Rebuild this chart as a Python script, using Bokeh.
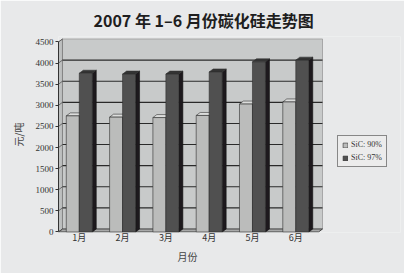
from bokeh.plotting import figure
from bokeh.models import Range1d, FixedTicker, Legend, LegendItem, Title
from bokeh.embed import file_html
from bokeh.resources import INLINE

# 2007 年 1–6 月碳化硅价格（元/吨）
months = ["1月", "2月", "3月", "4月", "5月", "6月"]
sic_90 = [2750, 2720, 2710, 2760, 3030, 3080]
sic_97 = [3760, 3740, 3740, 3790, 4030, 4070]
series_names = ["SiC: 90%", "SiC: 97%"]
y_ticks = [0, 500, 1000, 1500, 2000, 2500, 3000, 3500, 4000, 4500]

PAGE = "#e8e9ea"
WALL = "#c8caca"
SIDE_WALL = "#bdbfbf"
FLOOR = "#a8a9a9"
EDGE = "#2a2a2a"

# pseudo-3D geometry in data units
bar_w = 0.30
offsets = [-0.15, 0.15]
dx = 0.092          # depth, horizontal
dy = 71             # depth, vertical
x_lo = -0.48
x_hi = x_lo + 342 / 43.3   # plot area runs on to the right edge, leaving room for the legend
wall_right = 5.617
y_top = 4500

p = figure(width=404, height=273, output_backend="svg", toolbar_location=None,
           x_range=Range1d(x_lo, x_hi), y_range=Range1d(-12, 4630),
           min_border_left=58, min_border_right=4,
           min_border_top=35, min_border_bottom=41)
p.background_fill_color = PAGE
p.border_fill_color = PAGE
p.outline_line_color = None
p.grid.visible = False

p.title.text = "2007 年 1–6 月份碳化硅走势图"
p.title.text_font = "Noto Sans CJK SC"
p.title.text_font_size = "16px"
p.title.text_font_style = "bold"
p.title.text_color = "#1e1e1e"
p.title.align = "left"
p.title.offset = 35

# walls and floor
p.quad(left=x_lo + dx, right=wall_right, bottom=dy, top=y_top + dy,
       fill_color=WALL, line_color="#9a9a9a", line_width=0.8)
p.patch([x_lo, x_lo + dx, x_lo + dx, x_lo], [0, dy, y_top + dy, y_top],
        fill_color=SIDE_WALL, line_color="#777777", line_width=0.8)
p.patch([x_lo, wall_right - dx, wall_right, x_lo + dx], [0, 0, dy, dy],
        fill_color=FLOOR, line_color=EDGE, line_width=0.8)

# gridlines on the back wall and their diagonals on the side wall
grid_vals = y_ticks[1:-1]
p.segment(x0=[x_lo + dx] * len(grid_vals), y0=[v + dy for v in grid_vals],
          x1=[wall_right] * len(grid_vals), y1=[v + dy for v in grid_vals],
          line_color=EDGE, line_width=1.1)
p.segment(x0=[x_lo] * len(y_ticks), y0=y_ticks,
          x1=[x_lo + dx] * len(y_ticks), y1=[v + dy for v in y_ticks],
          line_color="#555555", line_width=0.8)

styles = [
    dict(front="#bbbcbb", top="#dcdddc", side="#858585"),
    dict(front="#505050", top="#333333", side="#1d191d"),
]

legend_items = []
for vals, off, st, name in zip([sic_90, sic_97], offsets, styles, series_names):
    xs = [i + off for i in range(len(months))]
    lefts = [x - bar_w / 2 for x in xs]
    rights = [x + bar_w / 2 for x in xs]
    side_xs = [[r, r, r + dx, r + dx] for r in rights]
    side_ys = [[0, v, v + dy, dy] for v in vals]
    top_xs = [[l, l + dx, r + dx, r] for l, r in zip(lefts, rights)]
    top_ys = [[v, v + dy, v + dy, v] for v in vals]
    p.patches(side_xs, side_ys, fill_color=st["side"], line_color="#111111", line_width=0.6)
    p.patches(top_xs, top_ys, fill_color=st["top"], line_color="#333333", line_width=0.6)
    r = p.vbar(x=xs, width=bar_w, bottom=0, top=vals,
               fill_color=st["front"], line_color="#2e2e2e", line_width=0.6)
    legend_items.append(LegendItem(label=name, renderers=[r]))

# axes
yax = p.yaxis[0]
yax.ticker = FixedTicker(ticks=y_ticks)
yax.bounds = (0, y_top)
yax.axis_line_color = "#333333"
yax.major_tick_line_color = "#333333"
yax.major_tick_out = 3
yax.major_tick_in = 0
yax.minor_tick_line_color = None
yax.major_label_text_font = "Liberation Serif"
yax.major_label_text_font_size = "9px"
yax.major_label_text_color = "#333333"
yax.major_label_standoff = 2
yax.axis_label = "元/吨"
yax.axis_label_text_font = "Noto Sans CJK SC"
yax.axis_label_text_font_size = "10px"
yax.axis_label_text_font_style = "normal"
yax.axis_label_text_color = "#444444"
yax.axis_label_standoff = 7

xax = p.xaxis[0]
xax.ticker = FixedTicker(ticks=list(range(len(months))))
xax.major_label_overrides = {i: m for i, m in enumerate(months)}
xax.axis_line_color = None
xax.major_tick_line_color = None
xax.minor_tick_line_color = None
xax.major_tick_out = 0
xax.major_tick_in = 0
xax.major_label_standoff = -2
xax.major_label_text_font = "Noto Sans CJK SC"
xax.major_label_text_font_size = "9px"
xax.major_label_text_color = "#333333"

# x-axis title, centred under the months rather than the whole plot area
x_title = Title(text="月份", align="left", offset=119, standoff=0,
                text_font="Noto Sans CJK SC", text_font_size="10px",
                text_font_style="normal", text_color="#444444")
p.add_layout(x_title, "below")

legend = Legend(items=legend_items, location=(279, 65))
legend.label_text_font = "Liberation Serif"
legend.label_text_font_size = "8px"
legend.label_text_color = "#333333"
legend.label_height = 9
legend.label_standoff = 3
legend.glyph_width = 6
legend.glyph_height = 6
legend.spacing = 4
legend.padding = 4
legend.margin = 0
legend.border_line_color = "#222222"
legend.border_line_width = 1
legend.background_fill_color = "#ececec"
legend.background_fill_alpha = 1
p.add_layout(legend, "center")

open("out.html", "w").write(file_html(p, INLINE))
